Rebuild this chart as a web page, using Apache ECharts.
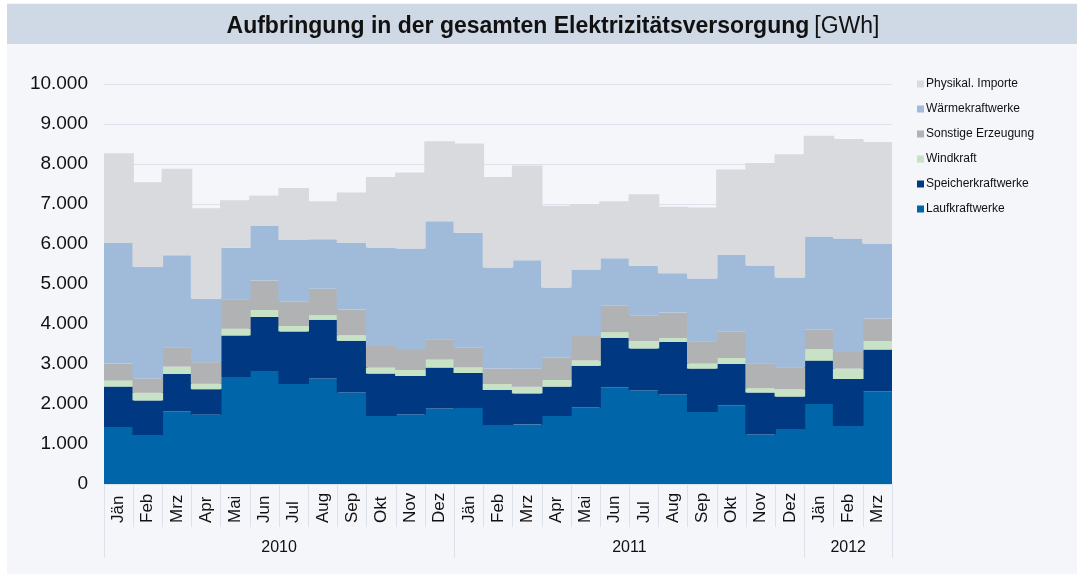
<!DOCTYPE html>
<html>
<head>
<meta charset="utf-8">
<script src="https://cdn.jsdelivr.net/npm/echarts@6/dist/echarts.min.js"></script>
<style>
  html, body { margin: 0; padding: 0; background: #ffffff; }
  #chart { width: 1077px; height: 574px; }
</style>
</head>
<body>
<div id="chart"></div>
<script>
// Monate (x-Achse)
const months = [
  "Jän", "Feb", "Mrz", "Apr", "Mai", "Jun", "Jul", "Aug", "Sep", "Okt", "Nov", "Dez",
  "Jän", "Feb", "Mrz", "Apr", "Mai", "Jun", "Jul", "Aug", "Sep", "Okt", "Nov", "Dez",
  "Jän", "Feb", "Mrz"
];
const years = ["2010", "2011", "2012"];
const monthsPerYear = [12, 12, 3];

// Werte in GWh
const laufkraftwerke = [1425, 1225, 1815, 1735, 2675, 2825, 2500, 2640, 2290, 1700, 1740, 1885, 1900, 1475, 1490, 1700, 1915, 2415, 2340, 2240, 1800, 1965, 1240, 1375, 2000, 1450, 2315];
const speicherkraftwerke = [1010, 865, 935, 635, 1040, 1350, 1315, 1465, 1290, 1060, 960, 1025, 875, 875, 775, 735, 1040, 1240, 1050, 1310, 1085, 1035, 1045, 810, 1085, 1175, 1045];
const windkraft = [150, 190, 185, 135, 165, 175, 135, 115, 140, 150, 150, 200, 140, 150, 165, 165, 135, 140, 185, 100, 125, 150, 110, 185, 285, 260, 215];
const sonstige = [425, 360, 485, 540, 740, 735, 615, 660, 640, 540, 525, 510, 500, 385, 450, 565, 610, 670, 640, 635, 560, 665, 625, 550, 485, 415, 560];
const waermekraftwerke = [3015, 2790, 2300, 1585, 1285, 1365, 1535, 1240, 1665, 2465, 2510, 2950, 2865, 2525, 2715, 1750, 1665, 1180, 1240, 985, 1565, 1910, 2440, 2240, 2335, 2835, 1875];
const importe = [2245, 2115, 2160, 2265, 1190, 760, 1300, 950, 1260, 1760, 1900, 2000, 2235, 2265, 2365, 2040, 1635, 1425, 1790, 1660, 1775, 2135, 2565, 3085, 2515, 2490, 2540];

const FONT = "Liberation Sans, Arial, sans-serif";
const lineColor = "#dce2eb";

// Jahresgrenzen und -mitten fuer die zweite Achse
const yearBounds = [0];
const yearCenters = [];
monthsPerYear.forEach((n, i) => {
  yearCenters.push(yearBounds[i] + n / 2);
  yearBounds.push(yearBounds[i] + n);
});

// etwas breiter als die Kategorie, damit keine hellen Fugen zwischen den Saeulen bleiben
const makeSeries = (name, data, color) => ({
  name: name,
  type: "bar",
  stack: "total",
  barCategoryGap: "0%",
  barWidth: "105%",
  data: data,
  itemStyle: { color: color },
  emphasis: { disabled: true },
});

const chart = echarts.init(document.getElementById("chart"));

const option = {
  backgroundColor: "#ffffff",
  animation: false,
  graphic: [
    { type: "rect", left: 7, top: 3, shape: { width: 1070, height: 571 }, style: { fill: "#f4f6fa" }, z: -10 },
    { type: "rect", left: 7, top: 4, shape: { width: 1070, height: 40 }, style: { fill: "#cfd9e5" }, z: -9 },
  ],
  title: {
    text: "{b|Aufbringung in der gesamten Elektrizitätsversorgung} {n|[GWh]}",
    left: 548,
    textAlign: "center",
    top: 10,
    textStyle: {
      rich: {
        b: { fontFamily: FONT, fontSize: 23, fontWeight: "bold", color: "#111111" },
        n: { fontFamily: FONT, fontSize: 23, fontWeight: "normal", color: "#111111" },
      },
    },
  },
  legend: {
    orient: "vertical",
    left: 912,
    top: 72,
    icon: "rect",
    itemWidth: 7,
    itemHeight: 7,
    itemGap: 11,
    data: ["Physikal. Importe", "Wärmekraftwerke", "Sonstige Erzeugung", "Windkraft", "Speicherkraftwerke", "Laufkraftwerke"],
    textStyle: { fontFamily: FONT, fontSize: 12, color: "#111111", padding: [0, 0, 0, -3], lineHeight: 14 },
  },
  grid: { left: 104, right: 185, top: 84, bottom: 90 },
  xAxis: [
    {
      type: "category",
      data: months,
      axisLine: { lineStyle: { color: lineColor } },
      axisTick: { show: true, interval: 0, alignWithLabel: false, length: 43, lineStyle: { color: lineColor } },
      axisLabel: {
        interval: 0,
        rotate: 90,
        align: "left",
        verticalAlign: "middle",
        margin: 39,
        fontFamily: FONT,
        fontSize: 17,
        color: "#111111",
      },
    },
    {
      type: "value",
      min: 0,
      max: yearBounds[yearBounds.length - 1],
      position: "bottom",
      offset: 43,
      axisLine: { show: false },
      splitLine: { show: false },
      axisTick: { show: true, customValues: yearBounds, length: 31, lineStyle: { color: lineColor } },
      axisLabel: {
        customValues: yearCenters,
        formatter: (v) => years[yearCenters.indexOf(v)] || "",
        margin: 13,
        fontFamily: FONT,
        fontSize: 16,
        color: "#111111",
      },
    },
  ],
  yAxis: {
    type: "value",
    min: 0,
    max: 10000,
    interval: 1000,
    axisLine: { show: false },
    axisTick: { show: false },
    splitLine: { lineStyle: { color: lineColor } },
    axisLabel: {
      margin: 16,
      fontFamily: FONT,
      fontSize: 19,
      color: "#111111",
      formatter: (v) => String(v).replace(/\B(?=(\d{3})+(?!\d))/g, "."),
    },
  },
  series: [
    makeSeries("Laufkraftwerke", laufkraftwerke, "#0065a9"),
    makeSeries("Speicherkraftwerke", speicherkraftwerke, "#003882"),
    makeSeries("Windkraft", windkraft, "#c7e2c4"),
    makeSeries("Sonstige Erzeugung", sonstige, "#b1b2b4"),
    makeSeries("Wärmekraftwerke", waermekraftwerke, "#a0bbda"),
    makeSeries("Physikal. Importe", importe, "#d9dadd"),
  ],
};

chart.setOption(option);
</script>
</body>
</html>
